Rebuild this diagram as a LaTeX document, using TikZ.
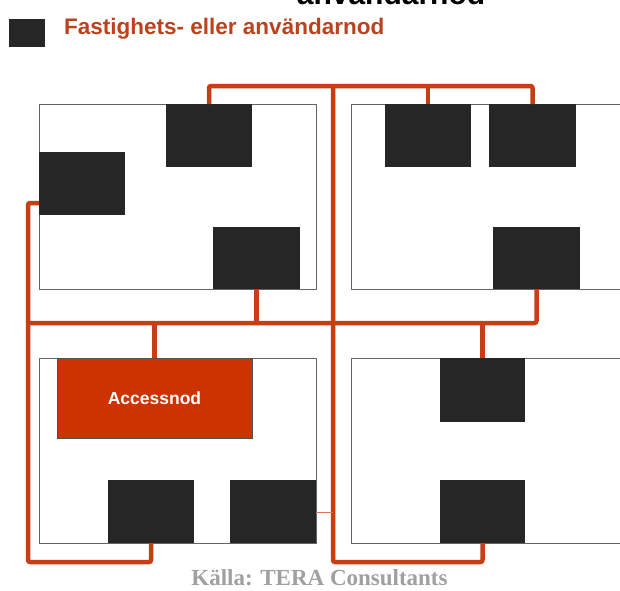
\documentclass[tikz,border=0pt]{standalone}
\usepackage{fontspec}
\setmainfont{Liberation Serif}
\newfontfamily\arialfont{Liberation Sans}
\definecolor{linkred}{RGB}{198,62,20}
\definecolor{accfill}{RGB}{204,51,0}
\definecolor{nodeblk}{RGB}{38,38,38}
\definecolor{legendtxt}{RGB}{188,66,30}
\definecolor{roomgray}{RGB}{100,100,100}
\definecolor{srcgray}{RGB}{160,160,160}
\tikzset{
  room/.style={draw=roomgray, line width=1pt, fill=white},
  unode/.style={fill=nodeblk, inner sep=0pt, outer sep=0pt, anchor=north west},
  accnode/.style={fill=accfill, draw=nodeblk!80, line width=0.8pt, inner sep=0pt, outer sep=0pt, anchor=north west,
    text=white, font=\arialfont\bfseries\fontsize{17.5}{20}\selectfont},
  link/.style={draw=linkred, line width=4.5pt, line join=round, rounded corners=2pt},
  thinlink/.style={draw=linkred!70, line width=1pt},
}
\begin{document}
\begin{tikzpicture}[x=1pt,y=-1pt]
\useasboundingbox (0,0) rectangle (620,590);
\clip (0,0) rectangle (620,590);
\fill[white] (0,0) rectangle (620,590);

% partial title text cut at top
\node[anchor=base, inner sep=0pt, font=\arialfont\bfseries\fontsize{30}{34}\selectfont] (title) at (391,4.5) {användarnod};

% legend
\node[unode, minimum width=36pt, minimum height=28pt] (legsq) at (9,19) {};
\node[anchor=base west, inner sep=0pt, text=legendtxt, font=\arialfont\bfseries\fontsize{22.5}{27}\selectfont] (legtxt) at (64,34.5) {Fastighets- eller användarnod};

% rooms
\draw[room] (39,104) rectangle (316,289);
\draw[room] (630,104) -- (351,104) -- (351,289) -- (630,289);
\draw[room] (39,358) rectangle (316,543);
\draw[room] (630,358) -- (351,358) -- (351,543) -- (630,543);

% user nodes
\node[unode, minimum width=86pt, minimum height=63pt] (A) at (166,104) {};
\node[unode, minimum width=86pt, minimum height=63pt] (B) at (39,152) {};
\node[unode, minimum width=87pt, minimum height=62pt] (C) at (213,227) {};
\node[unode, minimum width=86pt, minimum height=63pt] (D) at (385,104) {};
\node[unode, minimum width=87pt, minimum height=63pt] (E) at (489,104) {};
\node[unode, minimum width=87pt, minimum height=62pt] (F) at (493,227) {};
\node[accnode, minimum width=195pt, minimum height=80pt] (AC) at (57,358) {Accessnod};
\node[unode, minimum width=86pt, minimum height=63pt] (G) at (108,480) {};
\node[unode, minimum width=86pt, minimum height=63pt] (H) at (230,480) {};
\node[unode, minimum width=85pt, minimum height=64pt] (I) at (440,358) {};
\node[unode, minimum width=85pt, minimum height=63pt] (J) at (440,480) {};

% connector coordinates
\coordinate (top) at (333,86);
\coordinate (botR) at (482.5,562);
\coordinate (bstub) at (39,203);
\coordinate (lcorner) at (28,203);
\coordinate (lbot) at (28,562);
\coordinate (mL) at (28,323);

% connectors
\draw[link] (A.north) |- (top) -| (E.north);
\draw[link] (D.north) -- (D.north |- top);
\draw[link] (top) |- (botR) -- (J.south);
\draw[link] (bstub) -- (lcorner) -- (lbot) -| (G.south);
\draw[link] (mL) -- (F.south |- mL) -- (F.south);
\draw[link] (C.south) -- (C.south |- mL);
\draw[link] (AC.north) -- (AC.north |- mL);
\draw[link] (I.north) -- (I.north |- mL);
\draw[thinlink] ([yshift=-1pt]H.east) -- ([yshift=-1pt]H.east -| top);

% source
\node[anchor=base, inner sep=0pt, text=srcgray, font=\bfseries\fontsize{23}{27}\selectfont] (src) at (319.5,585.7) {Källa: TERA Consultants};
\end{tikzpicture}
\end{document}
